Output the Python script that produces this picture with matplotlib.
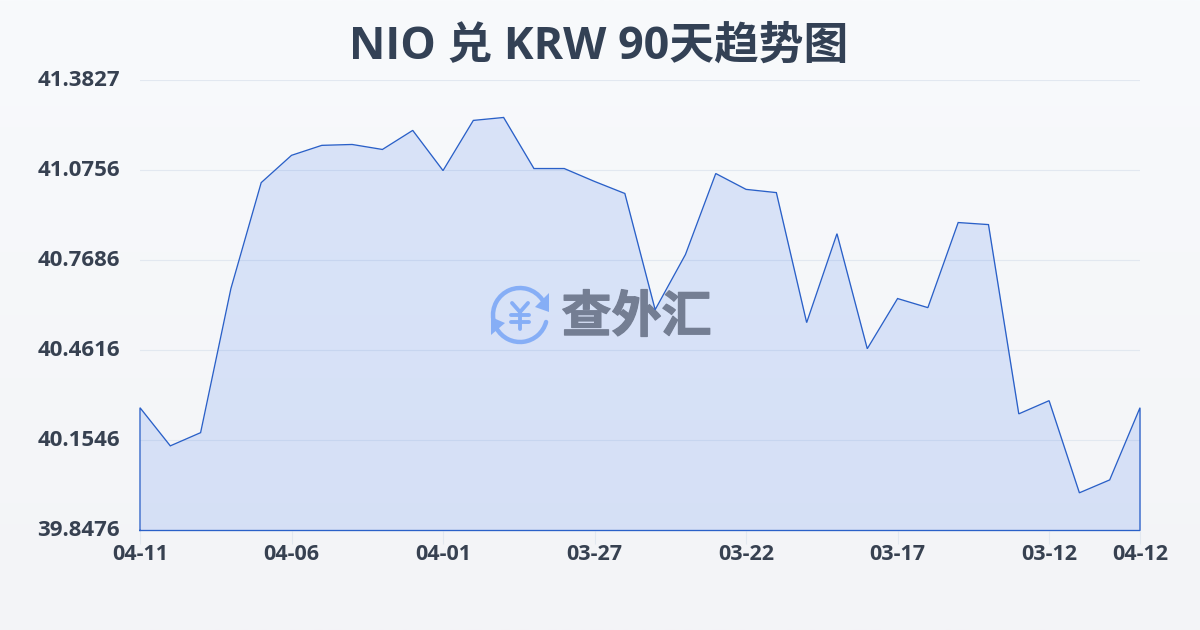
import numpy as np
import matplotlib
matplotlib.use("Agg")
import matplotlib.pyplot as plt
import matplotlib.patheffects as pe
from matplotlib.patches import Arc, Polygon
from matplotlib.transforms import ScaledTranslation

plt.rcParams['font.family'] = ['Open Sans', 'Noto Sans CJK SC', 'DejaVu Sans']

title = "NIO 兑 KRW 90天趋势图"
values = [40.266, 40.136, 40.181, 40.672, 41.033, 41.126, 41.160, 41.163, 41.146,
          41.211, 41.074, 41.245, 41.255, 41.081, 41.081, 41.037, 40.996, 40.600,
          40.788, 41.064, 41.010, 40.999, 40.556, 40.859, 40.467, 40.638, 40.607,
          40.897, 40.890, 40.245, 40.290, 39.976, 40.020, 40.266]
ytick_vals = [39.8476, 40.1546, 40.4616, 40.7686, 41.0756, 41.3827]
ytick_labels = ["39.8476", "40.1546", "40.4616", "40.7686", "41.0756", "41.3827"]
xtick_pos = [0, 5, 10, 15, 20, 25, 30, 33]
xtick_labels = ["04-11", "04-06", "04-01", "03-27", "03-22", "03-17", "03-12", "04-12"]

W, H = 1200, 630
fig = plt.figure(figsize=(12, 6.3), dpi=100)

# background gradient
bg = fig.add_axes([0, 0, 1, 1], zorder=0)
grad = np.linspace(0, 1, 256).reshape(-1, 1)
c0 = np.array([0xf8, 0xfa, 0xfc]) / 255
c1 = np.array([0xf3, 0xf4, 0xf7]) / 255
bg.imshow(c0 + (c1 - c0) * grad[..., None], aspect='auto', extent=[0, 1, 0, 1])
bg.axis('off')

# watermark, in pixel coordinates
wm = fig.add_axes([0, 0, 1, 1], zorder=1)
wm.set_xlim(0, W); wm.set_ylim(H, 0); wm.axis('off'); wm.patch.set_alpha(0)
blue = '#97bbf8'
cx, cy, r = 520, 315, 27
wm.add_patch(Arc((cx, cy), 2*r, 2*r, theta1=170, theta2=325, color=blue, lw=3.2, capstyle='round'))
wm.add_patch(Arc((cx, cy), 2*r, 2*r, theta1=15, theta2=150, color=blue, lw=3.2, capstyle='round'))
wm.add_patch(Polygon([(549, 293), (549, 312), (535, 307)], color=blue, lw=0))
wm.add_patch(Polygon([(491, 317), (491, 335), (505, 323)], color=blue, lw=0))
for seg in ([(512, 303), (520, 312), (528, 303)], [(511, 315), (529, 315)], [(511, 322), (529, 322)], [(520, 312), (520, 329)]):
    wm.plot(*zip(*seg), color=blue, lw=2.8, solid_capstyle='round', solid_joinstyle='round')
wm.text(636.5, 319, "查外汇", color='#828385', fontsize=36, fontweight='bold', ha='center', va='center',
        path_effects=[pe.withStroke(linewidth=0.9, foreground='#828385')])

# main chart
ax = fig.add_axes([140 / W, 1 - 530.5 / H, 1000 / W, 450.5 / H], zorder=2)
ax.patch.set_alpha(0)
x = np.arange(len(values))
ax.set_xlim(0, len(values) - 1)
ax.set_ylim(ytick_vals[0], ytick_vals[-1])
ax.fill_between(x, values, ytick_vals[0], color='#2563eb', alpha=0.14, lw=0, zorder=2)
xs = np.concatenate([[x[0]], x, [x[-1], x[0]]])
ys = np.concatenate([[ytick_vals[0]], values, [ytick_vals[0], ytick_vals[0]]])
ax.plot(xs, ys, color='#2a60c8', lw=0.95, zorder=3, clip_on=False, solid_joinstyle='miter')

ax.set_yticks(ytick_vals, ytick_labels)
ax.set_xticks(xtick_pos, xtick_labels)
ax.grid(axis='y', color='#e2e8f0', lw=0.8, zorder=1)
for s in ax.spines.values():
    s.set_visible(False)
ax.tick_params(axis='y', length=0, pad=14.5, labelsize=16, labelcolor='#374151')
ax.tick_params(axis='x', length=9, width=0.8, color='#e2e8f0', pad=0.5, labelsize=15.5, labelcolor='#374151')
for t in ax.get_xticklabels() + ax.get_yticklabels():
    t.set_fontweight('bold')
up = ScaledTranslation(0, 2 / 100, fig.dpi_scale_trans)
for t in ax.get_yticklabels():
    t.set_transform(t.get_transform() + up)

fig.text(599 / W, 1 - 47 / H, title, fontsize=32.2, fontweight='bold', color='#334155', ha='center', va='center')
fig.savefig("out.png", dpi=100)
